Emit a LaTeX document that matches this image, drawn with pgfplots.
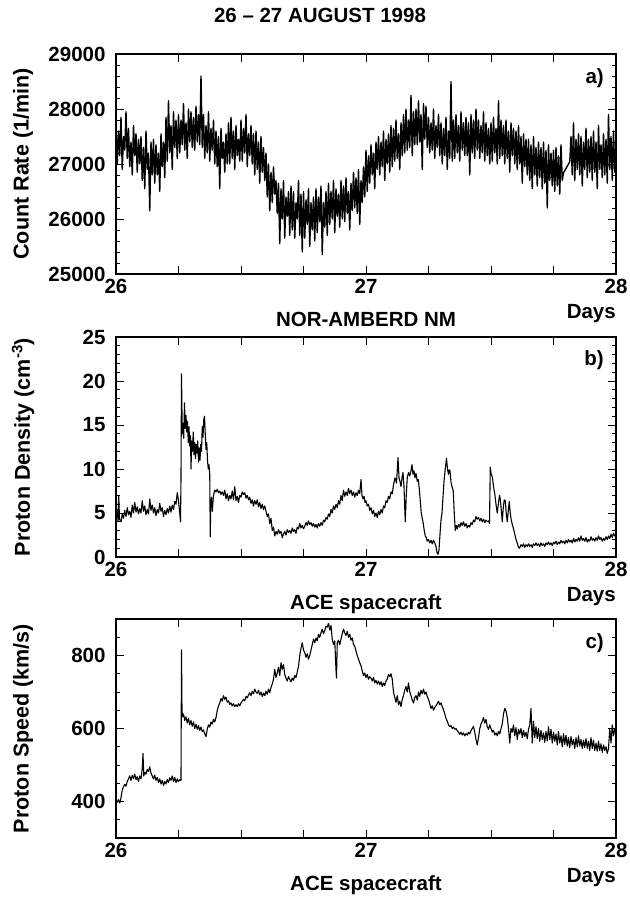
\documentclass[border=0pt]{standalone}
\usepackage{fontspec}
\setmainfont{Liberation Sans}
\usepackage{pgfplots}
\pgfplotsset{compat=1.18}

\newcommand\lbl{\fontsize{20.5}{24}\selectfont\bfseries}

\pgfplotsset{panel/.style={
    scale only axis, width=500pt,
    xmin=26, xmax=28,
    xtick={26,26.25,26.5,26.75,27,27.25,27.5,27.75,28},
    xticklabels={26,,,,27,,,,28},
    tick align=inside,
    major tick length=8pt, minor tick length=4pt,
    every tick/.style={black, line width=0.9pt},
    axis line style={line width=1.2pt},
    tick label style={font=\lbl},
    /pgf/number format/assume math mode=true,
    /pgf/number format/1000 sep={},
    scaled y ticks=false,
    yticklabel style={xshift=-7pt},
    xticklabel style={yshift=-2pt},
    ylabel style={font=\fontsize{21.5}{25}\selectfont\bfseries,
      at={(axis description cs:-0.186,0.5)}, anchor=center},
    xlabel style={font=\lbl, at={(axis description cs:0.5,0)},
      anchor=base, yshift=-52pt},
    clip=false,
  },
  trace/.style={black, line width=1.1pt, line join=round},
}

\begin{document}
\begin{tikzpicture}
\useasboundingbox (0,0) rectangle (629pt,-899pt);
\node[anchor=base, font=\lbl] at (320pt,-23pt) {26 -- 27 AUGUST 1998};

% a) neutron monitor count rate
\begin{axis}[panel, at={(116pt,-274pt)}, anchor=south west, height=220pt,
    ymin=25000, ymax=29000, ytick={25000,26000,27000,28000,29000},
    minor y tick num=4,
    ylabel={Count Rate (1/min)}, xlabel={NOR-AMBERD NM}]
\addplot[trace, line width=1.4pt] coordinates {
(26.000,27700)(26.005,27000)(26.010,27600)(26.015,27150)(26.020,27850)(26.025,26900)(26.030,27500)(26.035,27250)(26.040,27950)(26.045,27100)
(26.050,27650)(26.055,26950)(26.060,27400)(26.065,26800)(26.070,27700)(26.075,27150)(26.080,27550)(26.085,26850)(26.090,27450)(26.095,27000)
(26.100,27500)(26.105,26700)(26.110,27300)(26.115,26550)(26.120,27600)(26.125,26900)(26.130,27200)(26.135,26150)(26.140,27400)(26.145,26800)
(26.150,27450)(26.155,26650)(26.160,27350)(26.165,26800)(26.170,27200)(26.175,26500)(26.180,27550)(26.185,26950)(26.190,27400)(26.195,26750)
(26.200,27850)(26.205,27050)(26.210,28150)(26.215,27200)(26.220,27700)(26.225,26900)(26.230,27950)(26.235,27300)(26.240,27800)(26.245,27100)
(26.250,27900)(26.255,27200)(26.260,27800)(26.265,27350)(26.270,28100)(26.275,27250)(26.280,27750)(26.285,27100)(26.290,28000)(26.295,27400)
(26.300,27950)(26.305,27300)(26.310,27850)(26.315,27250)(26.320,28050)(26.325,27400)(26.330,27900)(26.335,27350)(26.340,28600)(26.345,27300)
(26.350,27900)(26.355,27100)(26.360,27700)(26.365,27200)(26.370,27950)(26.375,27050)(26.380,27650)(26.385,27250)(26.390,27800)(26.395,27000)
(26.400,27600)(26.405,26950)(26.410,27500)(26.415,26550)(26.420,27650)(26.425,27100)(26.430,27400)(26.435,26850)(26.440,27550)(26.445,27000)
(26.450,27750)(26.455,27000)(26.460,27850)(26.465,27100)(26.470,27600)(26.475,26900)(26.480,27700)(26.485,27150)(26.490,27450)(26.495,27050)
(26.500,27800)(26.505,27050)(26.510,27650)(26.515,27200)(26.520,27900)(26.525,26950)(26.530,27550)(26.535,27150)(26.540,27700)(26.545,27000)
(26.550,27550)(26.555,26800)(26.560,27600)(26.565,26900)(26.570,27400)(26.575,26650)(26.580,27500)(26.585,26850)(26.590,27300)(26.595,26700)
(26.600,27200)(26.605,26400)(26.610,27000)(26.615,26150)(26.620,26850)(26.625,26300)(26.630,26950)(26.635,26450)(26.640,26700)(26.645,26100)
(26.650,26650)(26.655,25550)(26.660,26550)(26.665,26000)(26.670,26700)(26.675,25650)(26.680,26400)(26.685,26050)(26.690,26500)(26.695,25700)
(26.700,26600)(26.705,25800)(26.710,26500)(26.715,25650)(26.720,26300)(26.725,26000)(26.730,26700)(26.735,25700)(26.740,26450)(26.745,25400)
(26.750,26500)(26.755,25650)(26.760,26350)(26.765,25900)(26.770,26550)(26.775,25500)(26.780,26300)(26.785,25800)(26.790,26400)(26.795,25600)
(26.800,26550)(26.805,25750)(26.810,26400)(26.815,25950)(26.820,26600)(26.825,25350)(26.830,26300)(26.835,25850)(26.840,26500)(26.845,25700)
(26.850,26650)(26.855,25900)(26.860,26500)(26.865,26000)(26.870,26700)(26.875,25750)(26.880,26550)(26.885,26050)(26.890,26450)(26.895,25850)
(26.900,26700)(26.905,26000)(26.910,26600)(26.915,25950)(26.920,26750)(26.925,26100)(26.930,26500)(26.935,25800)(26.940,26650)(26.945,26150)
(26.950,26850)(26.955,26200)(26.960,26750)(26.965,26100)(26.970,26900)(26.975,25900)(26.980,26700)(26.985,26300)(26.990,26950)(26.995,26400)
(27.000,27250)(27.005,26500)(27.010,27150)(27.015,26650)(27.020,27350)(27.025,26800)(27.030,27200)(27.035,26550)(27.040,27400)(27.045,26900)
(27.050,27500)(27.055,26800)(27.060,27400)(27.065,26950)(27.070,27600)(27.075,26700)(27.080,27450)(27.085,27000)(27.090,27550)(27.095,26850)
(27.100,27700)(27.105,26950)(27.110,27650)(27.115,27050)(27.120,27800)(27.125,27100)(27.130,27550)(27.135,26900)(27.140,27750)(27.145,27150)
(27.150,27900)(27.155,27200)(27.160,28000)(27.165,27250)(27.170,27800)(27.175,27300)(27.180,28250)(27.185,27150)(27.190,27950)(27.195,27350)
(27.200,28000)(27.205,27350)(27.210,28150)(27.215,27400)(27.220,27900)(27.225,26900)(27.230,28100)(27.235,27450)(27.240,28050)(27.245,27300)
(27.250,27850)(27.255,27200)(27.260,27750)(27.265,27250)(27.270,28000)(27.275,27100)(27.280,27700)(27.285,27300)(27.290,27900)(27.295,27150)
(27.300,27750)(27.305,27000)(27.310,27650)(27.315,27150)(27.320,27850)(27.325,26900)(27.330,27600)(27.335,27100)(27.340,28500)(27.345,27050)
(27.350,27800)(27.355,27100)(27.360,27900)(27.365,27200)(27.370,27700)(27.375,27050)(27.380,27950)(27.385,27250)(27.390,27750)(27.395,27150)
(27.400,27850)(27.405,27150)(27.410,27750)(27.415,26800)(27.420,27900)(27.425,27200)(27.430,27800)(27.435,27100)(27.440,28000)(27.445,27250)
(27.450,27800)(27.455,27100)(27.460,27700)(27.465,27200)(27.470,27950)(27.475,27050)(27.480,27750)(27.485,27150)(27.490,27650)(27.495,27000)
(27.500,27750)(27.505,27050)(27.510,27850)(27.515,27200)(27.520,27650)(27.525,27000)(27.530,28150)(27.535,27100)(27.540,27800)(27.545,27150)
(27.550,27700)(27.555,27000)(27.560,27800)(27.565,27100)(27.570,27600)(27.575,26850)(27.580,27750)(27.585,27150)(27.590,27650)(27.595,27000)
(27.600,27600)(27.605,26900)(27.610,27700)(27.615,27000)(27.620,27500)(27.625,26650)(27.630,27550)(27.635,26950)(27.640,27450)(27.645,26800)
(27.650,27450)(27.655,26700)(27.660,27350)(27.665,26550)(27.670,27500)(27.675,26800)(27.680,27300)(27.685,26600)(27.690,27400)(27.695,26750)
(27.700,27300)(27.705,26550)(27.710,27400)(27.715,26650)(27.720,27250)(27.725,26200)(27.730,27350)(27.735,26700)(27.740,27200)(27.745,26600)
(27.750,27250)(27.755,26500)(27.760,27300)(27.765,26600)(27.770,27150)(27.775,26450)(27.780,27350)(27.785,26700)(27.790,26840)
(27.815,27040)(27.820,27500)(27.825,26800)(27.830,27750)(27.835,26700)(27.840,27450)(27.845,26900)
(27.850,27550)(27.855,26800)(27.860,27500)(27.865,26600)(27.870,27400)(27.875,26900)(27.880,27650)(27.885,26750)(27.890,27450)(27.895,26850)
(27.900,27500)(27.905,26700)(27.910,27600)(27.915,26850)(27.920,27400)(27.925,26550)(27.930,27700)(27.935,26900)(27.940,27350)(27.945,26750)
(27.950,27550)(27.955,26800)(27.960,27450)(27.965,26650)(27.970,27900)(27.975,26900)(27.980,27500)(27.985,26700)(27.990,27600)(27.995,26850)
(28.000,27200)
};
\node[anchor=base east, inner sep=0pt, font=\lbl] at (rel axis cs:1,1) [xshift=-12pt, yshift=-29pt] {a)};
\node[anchor=base east, inner sep=0pt, font=\lbl] at (rel axis cs:1,0) [yshift=-44pt] {Days};
\end{axis}

% b) proton density
\begin{axis}[panel, at={(116pt,-557pt)}, anchor=south west, height=220pt,
    ymin=0, ymax=25, ytick={0,5,10,15,20,25}, minor y tick num=4,
    ylabel={Proton Density (cm\textsuperscript{-3})}, xlabel={ACE spacecraft}]
\addplot[trace] coordinates {
(26.000,4.6)(26.005,5.4)(26.008,4.1)(26.011,7.0)(26.014,4.3)(26.020,4.0)(26.025,4.9)(26.030,4.4)(26.035,5.3)(26.040,4.6)
(26.045,5.6)(26.050,4.8)(26.055,5.2)(26.060,4.5)(26.065,5.9)(26.070,5.0)(26.075,6.2)(26.080,5.1)(26.085,5.7)(26.090,4.9)
(26.095,5.5)(26.100,5.0)(26.105,6.4)(26.110,5.2)(26.115,5.8)(26.120,4.8)(26.125,5.4)(26.130,4.9)(26.135,6.6)(26.140,5.3)
(26.145,5.9)(26.150,5.0)(26.155,5.6)(26.160,4.7)(26.165,5.4)(26.170,5.0)(26.175,6.1)(26.180,5.2)(26.185,5.6)(26.190,4.6)
(26.195,5.3)(26.200,4.8)(26.205,5.5)(26.210,5.0)(26.215,5.8)(26.220,5.1)(26.225,5.9)(26.230,5.4)(26.235,6.3)(26.240,6.0)
(26.245,7.3)(26.250,6.4)(26.255,5.0)(26.258,4.0)(26.260,9.0)(26.262,20.8)(26.265,14.0)(26.268,15.2)(26.271,13.5)(26.274,17.5)
(26.277,14.6)(26.280,16.1)(26.283,14.2)(26.286,15.4)(26.289,13.0)(26.292,14.8)(26.295,12.6)(26.298,13.8)(26.300,10.0)(26.303,13.2)
(26.306,12.0)(26.309,14.2)(26.312,11.6)(26.315,13.0)(26.318,11.2)(26.321,12.8)(26.324,11.8)(26.327,13.2)(26.330,10.8)(26.333,12.4)
(26.336,11.0)(26.339,12.8)(26.342,12.0)(26.345,14.8)(26.348,13.6)(26.351,15.6)(26.354,16.0)(26.357,14.0)(26.360,12.2)(26.363,13.0)
(26.366,11.0)(26.369,10.0)(26.372,10.5)(26.375,9.4)(26.377,2.3)(26.379,6.0)(26.382,6.8)(26.385,5.2)
(26.390,7.0)(26.395,7.6)(26.400,7.4)(26.405,7.7)(26.410,7.3)(26.415,7.5)(26.420,7.1)(26.425,7.4)(26.430,7.0)(26.435,7.6)
(26.440,6.6)(26.445,7.2)(26.450,6.4)(26.455,7.0)(26.460,6.6)(26.465,7.5)(26.470,6.5)(26.475,8.0)(26.480,6.4)(26.485,6.9)
(26.490,6.2)(26.495,7.0)(26.500,6.8)(26.505,7.4)(26.510,7.1)(26.515,7.3)(26.520,6.7)(26.525,7.0)(26.530,6.5)(26.535,6.8)
(26.540,6.1)(26.545,6.5)(26.550,5.8)(26.555,6.4)(26.560,6.0)(26.565,6.5)(26.570,5.7)(26.575,6.2)(26.580,5.5)(26.585,6.0)
(26.590,5.4)(26.595,5.8)(26.600,5.2)(26.605,4.6)(26.610,4.9)(26.615,3.8)(26.620,4.4)(26.625,3.0)(26.630,3.4)(26.635,2.4)
(26.640,2.9)(26.645,2.6)(26.650,3.1)(26.655,2.7)(26.660,2.9)(26.665,2.2)(26.670,2.6)(26.675,2.9)(26.680,2.5)(26.685,3.1)
(26.690,2.8)(26.695,3.0)(26.700,2.7)(26.705,3.3)(26.710,2.9)(26.715,3.1)(26.720,2.7)(26.725,3.4)(26.730,3.2)(26.735,3.8)
(26.740,3.3)(26.745,3.6)(26.750,3.2)(26.755,3.5)(26.760,3.9)(26.765,3.6)(26.770,4.1)(26.775,3.7)(26.780,3.9)(26.785,3.5)
(26.790,3.8)(26.795,3.4)(26.800,3.7)(26.805,3.3)(26.810,3.8)(26.815,3.5)(26.820,3.9)(26.825,3.6)(26.830,4.2)(26.835,4.0)
(26.840,4.5)(26.845,4.3)(26.850,4.9)(26.855,4.6)(26.860,5.4)(26.865,5.0)(26.870,5.8)(26.875,5.4)(26.880,6.0)(26.885,5.6)
(26.890,6.4)(26.895,6.0)(26.900,7.0)(26.905,6.4)(26.910,7.6)(26.915,6.9)(26.920,7.4)(26.925,7.0)(26.930,7.8)(26.935,7.2)
(26.940,7.6)(26.945,7.0)(26.950,7.4)(26.955,6.8)(26.960,7.3)(26.965,7.0)(26.970,7.6)(26.975,7.2)(26.980,8.8)(26.984,7.0)
(26.988,6.6)(26.992,6.9)(26.996,6.2)(27.000,6.4)(27.005,5.8)(27.010,6.0)(27.015,5.3)(27.020,5.6)(27.025,4.9)(27.030,5.3)
(27.035,4.6)(27.040,5.0)(27.045,4.5)(27.050,5.2)(27.055,4.8)(27.060,5.4)(27.065,5.0)(27.070,5.8)(27.075,5.6)(27.080,6.4)
(27.085,6.2)(27.090,6.9)(27.095,6.6)(27.100,7.4)(27.105,7.2)(27.110,8.2)(27.116,9.0)(27.122,8.4)(27.128,11.3)(27.132,9.0)
(27.136,8.6)(27.140,8.0)(27.144,9.0)(27.148,9.6)(27.152,8.0)(27.157,4.0)(27.161,7.0)(27.165,9.0)(27.170,9.6)(27.175,9.2)
(27.180,9.8)(27.184,10.5)(27.188,9.4)(27.192,9.8)(27.196,9.0)(27.200,9.5)(27.205,8.6)(27.209,8.8)(27.213,7.8)(27.217,6.4)
(27.221,5.0)(27.225,4.4)(27.229,3.8)(27.233,3.0)(27.237,2.4)(27.241,2.2)(27.245,1.8)(27.250,2.0)(27.255,1.6)(27.260,1.9)
(27.265,1.5)(27.270,1.9)(27.275,1.6)(27.280,1.2)(27.284,0.5)(27.288,0.3)(27.292,0.8)(27.296,2.6)(27.300,4.2)(27.304,5.0)
(27.308,6.8)(27.312,8.6)(27.317,10.0)(27.322,11.2)(27.326,10.0)(27.330,9.4)(27.333,9.9)(27.336,9.8)(27.340,8.5)(27.344,8.0)
(27.349,7.5)(27.353,5.0)(27.357,3.0)(27.361,3.6)(27.365,3.2)(27.370,3.7)(27.375,3.4)(27.380,3.9)(27.385,3.6)(27.390,4.0)
(27.395,3.5)(27.400,3.8)(27.405,3.3)(27.410,3.6)(27.415,3.4)(27.420,3.9)(27.425,3.7)(27.430,4.2)(27.435,4.0)(27.440,4.6)
(27.445,4.3)(27.450,4.5)(27.455,4.1)(27.460,4.4)(27.465,4.0)(27.470,4.3)(27.475,3.9)(27.480,4.2)(27.485,4.0)(27.490,4.1)
(27.494,3.8)(27.497,10.2)(27.501,9.4)(27.506,9.0)(27.510,8.0)(27.515,7.2)(27.520,6.0)(27.525,5.0)(27.530,6.2)(27.534,7.0)
(27.537,6.6)(27.541,5.4)(27.545,4.0)(27.549,5.6)(27.553,6.5)(27.557,6.4)(27.561,5.0)(27.565,4.0)(27.569,5.2)(27.573,6.3)
(27.577,5.0)(27.581,4.2)(27.586,3.6)(27.590,3.2)(27.595,2.6)(27.600,2.0)(27.606,1.5)(27.610,1.1)(27.614,1.0)(27.620,1.4)
(27.625,1.2)(27.630,1.5)(27.635,1.1)(27.640,1.4)(27.645,1.2)(27.650,1.5)(27.655,1.2)(27.660,1.4)(27.665,1.1)(27.670,1.5)
(27.675,1.3)(27.680,1.6)(27.685,1.3)(27.690,1.5)(27.695,1.2)(27.700,1.6)(27.705,1.3)(27.710,1.5)(27.715,1.2)(27.720,1.6)
(27.725,1.4)(27.730,1.7)(27.735,1.4)(27.740,1.6)(27.745,1.3)(27.750,1.7)(27.755,1.5)(27.760,1.8)(27.765,1.4)(27.770,1.7)
(27.775,1.5)(27.780,1.9)(27.785,1.6)(27.790,1.8)(27.795,1.5)(27.800,1.9)(27.805,1.6)(27.810,2.0)(27.815,1.7)(27.820,1.9)
(27.825,1.6)(27.830,2.1)(27.835,1.7)(27.840,2.0)(27.845,1.8)(27.850,2.2)(27.855,1.8)(27.860,2.4)(27.865,1.9)(27.870,2.1)
(27.875,1.8)(27.880,2.2)(27.885,1.7)(27.890,2.0)(27.895,1.8)(27.900,2.3)(27.905,1.9)(27.910,2.1)(27.915,1.8)(27.920,2.2)
(27.925,1.9)(27.930,2.4)(27.935,2.0)(27.940,2.2)(27.945,1.8)(27.950,2.1)(27.955,1.9)(27.960,2.3)(27.965,2.0)(27.970,2.4)
(27.975,2.1)(27.980,2.6)(27.985,2.2)(27.990,2.7)(27.995,2.4)(28.000,2.6)
};
\node[anchor=base east, inner sep=0pt, font=\lbl] at (rel axis cs:1,1) [xshift=-12pt, yshift=-28pt] {b)};
\node[anchor=base east, inner sep=0pt, font=\lbl] at (rel axis cs:1,0) [yshift=-44pt] {Days};
\end{axis}

% c) proton speed
\begin{axis}[panel, at={(116pt,-838pt)}, anchor=south west, height=219pt,
    ymin=300, ymax=900, ytick={400,600,800}, minor ytick={300,350,450,500,550,650,700,750,850,900},
    ylabel={Proton Speed (km/s)}, xlabel={ACE spacecraft}]
\addplot[trace] coordinates {
(26.000,402)(26.005,398)(26.010,405)(26.015,396)(26.020,410)(26.025,432)(26.030,440)(26.035,447)(26.040,442)(26.045,455)
(26.050,462)(26.055,470)(26.060,458)(26.065,472)(26.070,463)(26.075,475)(26.080,460)(26.085,468)(26.090,455)(26.095,470)
(26.100,462)(26.105,490)(26.108,532)(26.111,470)(26.115,480)(26.120,475)(26.125,488)(26.130,482)(26.135,495)(26.140,478)
(26.145,470)(26.150,462)(26.155,472)(26.160,458)(26.165,466)(26.170,452)(26.175,462)(26.180,448)(26.185,458)(26.190,444)
(26.195,455)(26.200,448)(26.205,460)(26.210,452)(26.215,465)(26.220,458)(26.225,470)(26.230,455)(26.235,466)(26.240,452)
(26.245,462)(26.250,455)(26.255,460)(26.260,458)(26.262,815)(26.264,650)(26.266,632)(26.270,640)(26.275,622)(26.280,632)
(26.285,615)(26.290,628)(26.295,610)(26.300,622)(26.305,606)(26.310,618)(26.315,600)(26.320,612)(26.325,598)(26.330,608)
(26.335,595)(26.340,604)(26.345,592)(26.350,596)(26.355,585)(26.360,578)(26.365,598)(26.370,610)(26.375,604)(26.380,618)
(26.385,612)(26.390,625)(26.395,618)(26.400,630)(26.405,650)(26.410,662)(26.415,670)(26.420,682)(26.425,675)(26.430,690)
(26.435,680)(26.440,686)(26.445,672)(26.450,676)(26.455,666)(26.460,670)(26.465,662)(26.470,668)(26.475,660)(26.480,665)
(26.485,660)(26.490,668)(26.495,662)(26.500,670)(26.505,675)(26.510,680)(26.515,676)(26.520,688)(26.525,684)(26.530,692)
(26.535,698)(26.540,690)(26.545,702)(26.550,695)(26.555,708)(26.560,700)(26.565,696)(26.570,705)(26.575,692)(26.580,700)
(26.585,688)(26.590,697)(26.595,690)(26.600,702)(26.605,694)(26.610,708)(26.615,698)(26.620,712)(26.625,722)(26.630,735)
(26.635,762)(26.640,740)(26.645,752)(26.650,768)(26.655,745)(26.660,780)(26.665,762)(26.670,775)(26.675,748)(26.680,738)
(26.685,730)(26.690,742)(26.695,735)(26.700,728)(26.705,738)(26.710,732)(26.715,745)(26.720,740)(26.725,755)(26.730,770)
(26.735,800)(26.740,820)(26.745,835)(26.750,815)(26.755,808)(26.760,795)(26.765,805)(26.770,790)(26.775,800)(26.780,815)
(26.785,830)(26.790,845)(26.795,835)(26.800,848)(26.805,840)(26.810,858)(26.815,850)(26.820,862)(26.825,872)(26.830,860)
(26.835,868)(26.840,880)(26.845,878)(26.850,888)(26.855,870)(26.860,882)(26.865,845)(26.870,830)(26.875,840)(26.880,760)
(26.882,738)(26.885,835)(26.890,842)(26.895,830)(26.900,845)(26.905,860)(26.910,872)(26.915,862)(26.920,855)(26.925,866)
(26.930,850)(26.935,858)(26.940,842)(26.945,848)(26.950,830)(26.955,826)(26.960,812)(26.965,800)(26.970,790)(26.975,780)
(26.980,772)(26.985,758)(26.990,745)(26.995,752)(27.000,740)(27.005,748)(27.010,735)(27.015,742)(27.020,738)(27.025,730)
(27.030,740)(27.035,725)(27.040,732)(27.045,722)(27.050,730)(27.055,720)(27.060,728)(27.065,715)(27.070,725)(27.075,718)
(27.080,730)(27.085,735)(27.090,748)(27.095,742)(27.100,750)(27.105,735)(27.110,700)(27.115,685)(27.120,672)(27.125,690)
(27.130,665)(27.135,675)(27.140,660)(27.145,680)(27.150,690)(27.155,705)(27.160,715)(27.165,700)(27.170,725)(27.175,700)
(27.180,690)(27.185,678)(27.190,670)(27.195,685)(27.200,690)(27.205,678)(27.210,700)(27.215,688)(27.220,705)(27.225,695)
(27.230,708)(27.235,694)(27.240,700)(27.245,688)(27.250,680)(27.255,668)(27.260,655)(27.265,662)(27.270,650)(27.275,658)
(27.280,662)(27.285,668)(27.290,675)(27.295,665)(27.300,670)(27.305,660)(27.310,652)(27.315,640)(27.320,628)(27.325,620)
(27.330,610)(27.335,605)(27.340,608)(27.345,600)(27.350,604)(27.355,598)(27.360,600)(27.365,594)(27.370,590)(27.375,584)
(27.380,590)(27.385,582)(27.390,588)(27.395,580)(27.400,586)(27.405,582)(27.410,590)(27.415,585)(27.420,594)(27.425,600)
(27.430,606)(27.435,590)(27.440,570)(27.445,555)(27.450,575)(27.455,600)(27.460,612)(27.465,620)(27.470,630)(27.475,615)
(27.480,625)(27.485,605)(27.490,598)(27.495,610)(27.500,600)(27.505,590)(27.510,595)(27.515,582)(27.520,588)(27.525,580)
(27.530,592)(27.535,585)(27.540,600)(27.545,612)(27.550,640)(27.555,655)(27.560,648)(27.565,630)(27.570,600)(27.575,560)
(27.580,600)(27.585,590)(27.590,610)(27.595,580)(27.600,602)(27.605,570)(27.610,598)(27.615,585)(27.620,600)(27.625,575)
(27.630,595)(27.635,578)(27.640,590)(27.645,572)(27.650,598)(27.655,610)(27.660,655)(27.665,560)(27.670,620)(27.675,575)
(27.680,605)(27.685,572)(27.690,600)(27.695,565)(27.700,595)(27.705,570)(27.710,588)(27.715,562)(27.720,592)(27.725,566)
(27.730,605)(27.735,570)(27.740,598)(27.745,560)(27.750,590)(27.755,565)(27.760,585)(27.765,555)(27.770,592)(27.775,560)
(27.780,580)(27.785,550)(27.790,586)(27.795,556)(27.800,582)(27.805,552)(27.810,575)(27.815,548)(27.820,578)(27.825,555)
(27.830,570)(27.835,545)(27.840,575)(27.845,550)(27.850,580)(27.855,552)(27.860,570)(27.865,545)(27.870,568)(27.875,548)
(27.880,572)(27.885,546)(27.890,565)(27.895,540)(27.900,575)(27.905,545)(27.910,568)(27.915,540)(27.920,560)(27.925,538)
(27.930,565)(27.935,540)(27.940,558)(27.945,535)(27.950,555)(27.955,540)(27.960,550)(27.965,532)(27.970,545)(27.975,600)
(27.980,560)(27.985,610)(27.990,580)(27.995,598)(28.000,588)
};
\node[anchor=base east, inner sep=0pt, font=\lbl] at (rel axis cs:1,1) [xshift=-12pt, yshift=-29pt] {c)};
\node[anchor=base east, inner sep=0pt, font=\lbl] at (rel axis cs:1,0) [yshift=-44pt] {Days};
\end{axis}
\end{tikzpicture}
\end{document}
